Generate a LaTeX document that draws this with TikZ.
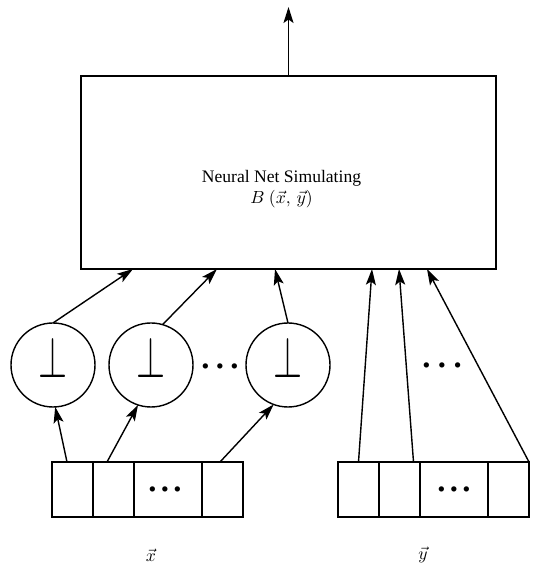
\documentclass[tikz,border=0pt]{standalone}
\usepackage{amsmath,amssymb}
\usepackage{graphicx}
\usepackage{fontspec}
\setmainfont{Liberation Serif}
\usepackage{tikz}
\usetikzlibrary{positioning,arrows.meta}

\newcommand{\dotrow}[1]{{\scriptsize$\bullet$\hspace{#1}$\bullet$\hspace{#1}$\bullet$}}

\begin{document}
\begin{tikzpicture}[>={Stealth[length=3.2mm,width=2mm,inset=0.7mm]},line width=0.8pt,
  cell/.style={draw,minimum height=1.1cm,minimum width=0.82cm,inner sep=0pt,outer sep=0pt},
  neuron/.style={draw,circle,minimum size=1.68cm,inner sep=0pt,outer sep=0pt,
    label={[yshift=0.15cm]center:\resizebox{16.5pt}{23pt}{$\perp$}}}]
\useasboundingbox (0,0) rectangle (10.64,11.32);
\node[draw,minimum width=8.3cm,minimum height=3.86cm,outer sep=0pt] (net) at (5.77,7.87) {};
\node[align=center] (title) at (5.63,7.54) {Neural Net Simulating\\$B\ (\vec{x},\,\vec{y})$};
\coordinate (out) at (5.77,11.18);
\draw[->] (net.north) -- (out);
% threshold units
\node[neuron] (n1) at (1.06,4.02) {};
\node[neuron,right=0.28cm of n1] (n2) {};
\node[neuron,right=1.06cm of n2] (n3) {};
\node (ndots) at (4.4,3.98) {\dotrow{4.2pt}};
% input registers
\node[cell] (x1) at (1.45,1.53) {};
\node[cell,right=0pt of x1] (x2) {};
\node[cell,minimum width=1.36cm,right=0pt of x2] (x3) {\hspace{-0.12cm}\dotrow{3pt}};
\node[cell,right=0pt of x3] (x4) {};
\node[cell] (y1) at (7.17,1.53) {};
\node[cell,right=0pt of y1] (y2) {};
\node[cell,minimum width=1.36cm,right=0pt of y2] (y3) {\dotrow{3pt}};
\node[cell,right=0pt of y3] (y4) {};
\node (ydots) at (8.84,4.0) {\dotrow{4.8pt}};
\node (xlab) at (3.02,0.22) {$\vec{x}$};
\node (ylab) at (8.46,0.22) {$\vec{y}$};
% connections
\draw[->] ([xshift=-0.11cm]x1.north) -- (n1.273);
\draw[->] ([xshift=-0.13cm]x2.north) -- (n2.252);
\draw[->] ([xshift=-0.05cm]x4.north) -- (n3.250);
\draw[->] (n1.north) -- ([xshift=1.04cm]net.south west);
\draw[->] (n2.74) -- ([xshift=2.72cm]net.south west);
\draw[->] (n3.north) -- ([xshift=3.88cm]net.south west);
\draw[->] (y1.north) -- ([xshift=5.82cm]net.south west);
\draw[->] ([xshift=0.28cm]y2.north) -- ([xshift=6.36cm]net.south west);
\draw[->] (y4.north east) -- ([xshift=6.92cm]net.south west);
\end{tikzpicture}
\end{document}
